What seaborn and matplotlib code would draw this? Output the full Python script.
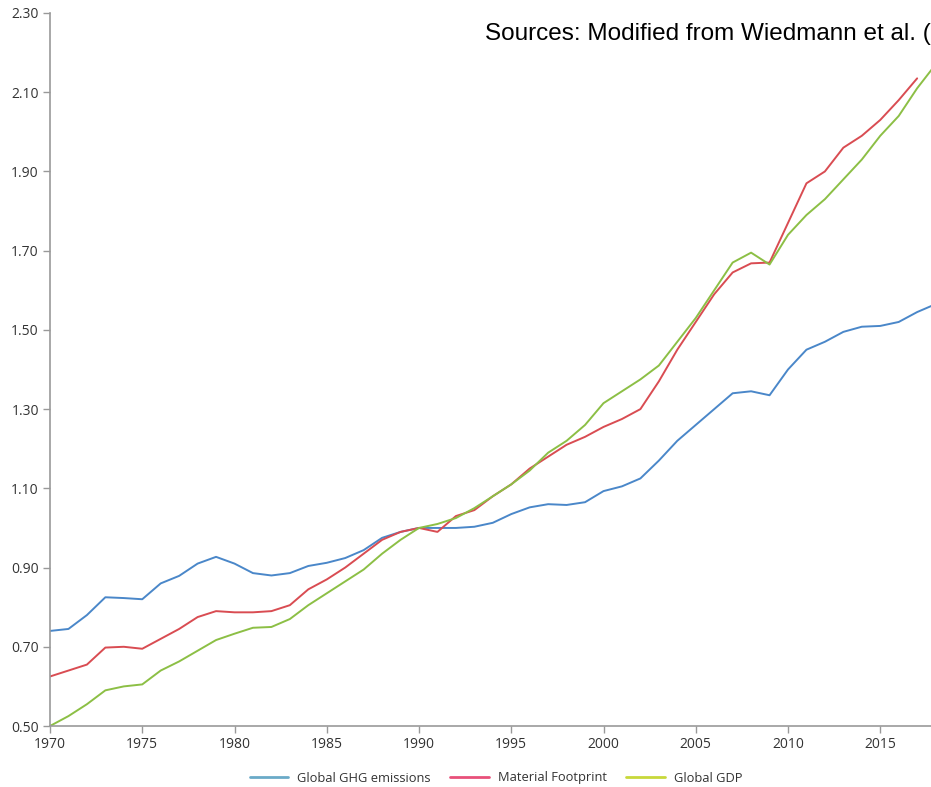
import matplotlib
matplotlib.use("Agg")
import matplotlib.pyplot as plt
from matplotlib.lines import Line2D
import seaborn as sns
import numpy as np
import pandas as pd

# data (index, 1990 = 1.00)
years = list(range(1970, 2019))
ghg = [0.74, 0.745, 0.78, 0.825, 0.823, 0.82, 0.86, 0.879, 0.91, 0.927,
       0.91, 0.886, 0.88, 0.886, 0.904, 0.912, 0.924, 0.944, 0.975, 0.99,
       1.00, 1.00, 1.00, 1.003, 1.013, 1.035, 1.052, 1.06, 1.058, 1.065,
       1.093, 1.105, 1.125, 1.17, 1.22, 1.26, 1.30, 1.34, 1.345, 1.335,
       1.40, 1.45, 1.47, 1.495, 1.508, 1.51, 1.52, 1.545, 1.565]
material = [0.625, 0.64, 0.655, 0.698, 0.70, 0.695, 0.72, 0.745, 0.775, 0.79,
            0.787, 0.787, 0.79, 0.805, 0.845, 0.87, 0.90, 0.935, 0.97, 0.99,
            1.00, 0.99, 1.03, 1.045, 1.08, 1.11, 1.15, 1.18, 1.21, 1.23,
            1.255, 1.275, 1.30, 1.37, 1.45, 1.52, 1.59, 1.645, 1.668, 1.67,
            1.77, 1.87, 1.90, 1.96, 1.99, 2.03, 2.08, 2.135]
gdp = [0.50, 0.525, 0.555, 0.59, 0.60, 0.605, 0.64, 0.663, 0.69, 0.717,
       0.733, 0.748, 0.75, 0.77, 0.805, 0.835, 0.865, 0.895, 0.935, 0.97,
       1.00, 1.01, 1.025, 1.05, 1.08, 1.11, 1.145, 1.19, 1.22, 1.26,
       1.315, 1.345, 1.375, 1.41, 1.47, 1.53, 1.60, 1.67, 1.695, 1.665,
       1.74, 1.79, 1.83, 1.88, 1.93, 1.99, 2.04, 2.11, 2.17]

series = ["Global GHG emissions", "Material Footprint", "Global GDP"]
line_colors = ["#4a87c9", "#d94c52", "#8cbf45"]
legend_colors = ["#6aaac8", "#e8507a", "#c8d83a"]

df = pd.concat([
    pd.DataFrame({"year": years[:len(ghg)], "value": ghg, "series": series[0]}),
    pd.DataFrame({"year": years[:len(material)], "value": material, "series": series[1]}),
    pd.DataFrame({"year": years[:len(gdp)], "value": gdp, "series": series[2]}),
])

sns.set_style("white")
plt.rcParams["font.family"] = ["Open Sans", "DejaVu Sans"]

fig = plt.figure(figsize=(9.31, 7.87), dpi=100)
ax = fig.add_axes([50 / 931, 61 / 787, 881 / 931, 713 / 787])

sns.lineplot(data=df, x="year", y="value", hue="series", hue_order=series,
             palette=line_colors, linewidth=1.4, legend=False, ax=ax)

ax.set_xlim(1970, 1970 + 881 / 18.45)
ax.set_ylim(0.5, 2.3)
ax.set_xticks(range(1970, 2020, 5))
ax.set_yticks(np.arange(0.5, 2.31, 0.2))
ax.yaxis.set_major_formatter(matplotlib.ticker.FormatStrFormatter("%.2f"))
ax.set_xlabel("")
ax.set_ylabel("")
ax.tick_params(axis="both", length=5, width=1, color="#999999",
               labelsize=10, labelcolor="#333333", pad=3, left=True, bottom=True)
for side in ["top", "right"]:
    ax.spines[side].set_visible(False)
for side in ["left", "bottom"]:
    ax.spines[side].set_color("#999999")
    ax.spines[side].set_linewidth(1.2)

handles = [Line2D([], [], color=c, linewidth=2) for c in legend_colors]
fig.legend(handles, series, loc="center", bbox_to_anchor=(0.533, 1 - 778 / 787),
           ncol=3, frameon=False, fontsize=9.3, handlelength=3.0,
           handletextpad=0.7, columnspacing=1.5, labelcolor="#333333")

# source note runs off the right edge, as in the original
fig.text(485 / 931, 1 - 34 / 787, "Sources: Modified from Wiedmann et al. (2020)",
         fontsize=17.5, va="center", ha="left", color="black",
         family=["Liberation Sans Narrow", "Liberation Sans", "DejaVu Sans"])

fig.savefig("out.png", dpi=100)
